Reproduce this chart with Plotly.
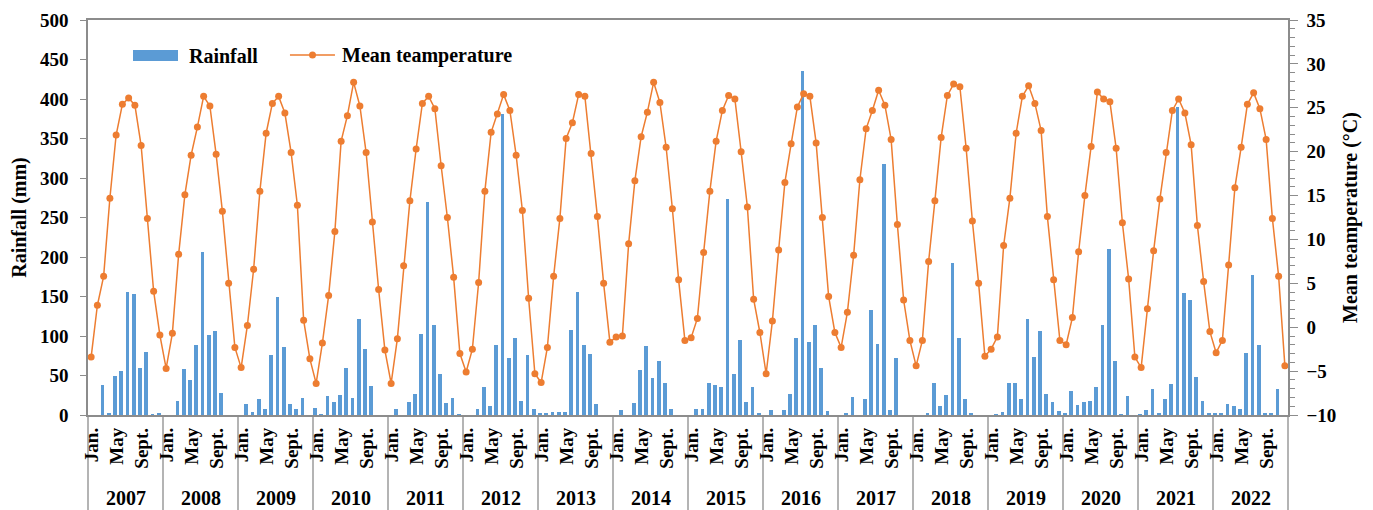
import plotly.graph_objects as go

# Monthly climate record, 2007-2022
years = [str(y) for y in range(2007, 2023)]
month_labels = ["Jan.", "May", "Sept."]
label_months = [0, 4, 8]  # month index (0 = January) that carries a label

# Monthly rainfall (mm), one row per year, Jan..Dec
rainfall_mm = [
    0, 0, 38, 3, 49, 56, 156, 153, 60, 80, 1, 2,          # 2007
    0, 0, 18, 58, 44, 89, 206, 101, 106, 28, 0, 0,        # 2008
    0, 14, 4, 20, 8, 76, 149, 86, 14, 7, 22, 0,           # 2009
    9, 1, 24, 16, 25, 60, 21, 122, 84, 37, 0, 0,          # 2010
    0, 8, 0, 16, 27, 103, 270, 114, 52, 15, 22, 1,        # 2011
    0, 0, 8, 36, 12, 88, 381, 72, 98, 18, 76, 8,          # 2012
    3, 2, 4, 4, 4, 107, 156, 88, 77, 14, 0, 0,            # 2013
    0, 6, 0, 15, 57, 87, 47, 68, 40, 8, 0, 0,             # 2014
    0, 7, 7, 41, 38, 36, 273, 52, 95, 17, 35, 2,          # 2015
    0, 6, 0, 6, 27, 98, 435, 92, 114, 60, 5, 0,           # 2016
    0, 2, 23, 0, 20, 133, 90, 318, 6, 72, 0, 0,           # 2017
    0, 0, 2, 41, 11, 25, 192, 98, 20, 2, 0, 0,            # 2018
    0, 1, 4, 40, 40, 20, 121, 74, 106, 26, 16, 5,         # 2019
    2, 30, 13, 17, 18, 35, 114, 210, 68, 1, 24, 0,        # 2020
    1, 6, 33, 3, 20, 39, 390, 154, 145, 48, 18, 2,        # 2021
    2, 2, 14, 11, 8, 79, 177, 89, 2, 2, 33, 0,            # 2022
]

# Monthly mean temperature (°C), Jan..Dec
mean_temp_c = [
    -3.4, 2.5, 5.8, 14.7, 21.9, 25.4, 26.1, 25.3, 20.7, 12.4, 4.1, -0.9,    # 2007
    -4.7, -0.7, 8.3, 15.1, 19.6, 22.8, 26.3, 25.2, 19.7, 13.2, 5.0, -2.3,   # 2008
    -4.6, 0.2, 6.6, 15.5, 22.1, 25.5, 26.3, 24.4, 19.9, 13.9, 0.8, -3.6,    # 2009
    -6.4, -1.8, 3.6, 10.9, 21.2, 24.1, 27.9, 25.2, 19.9, 12.0, 4.3, -2.6,   # 2010
    -6.4, -1.3, 7.0, 14.4, 20.3, 25.5, 26.3, 24.9, 18.4, 12.5, 5.7, -3.0,   # 2011
    -5.1, -2.5, 5.1, 15.5, 22.2, 24.3, 26.5, 24.7, 19.6, 13.3, 3.3, -5.3,   # 2012
    -6.3, -2.3, 5.8, 12.4, 21.5, 23.3, 26.5, 26.3, 19.8, 12.6, 5.0, -1.7,   # 2013
    -1.1, -1.0, 9.5, 16.7, 21.7, 24.5, 27.9, 25.6, 20.5, 13.5, 5.4, -1.5,   # 2014
    -1.2, 1.0, 8.5, 15.5, 21.2, 24.7, 26.4, 26.0, 20.0, 13.7, 3.2, -0.6,    # 2015
    -5.3, 0.7, 8.8, 16.5, 20.9, 25.1, 26.6, 26.3, 21.0, 12.5, 3.5, -0.6,    # 2016
    -2.3, 1.7, 8.2, 16.8, 22.6, 24.7, 27.0, 25.3, 21.4, 11.7, 3.1, -1.5,    # 2017
    -4.4, -1.5, 7.5, 14.4, 21.6, 26.4, 27.7, 27.4, 20.4, 12.1, 5.0, -3.3,   # 2018
    -2.5, -1.1, 9.3, 14.7, 22.1, 26.3, 27.5, 25.5, 22.4, 12.6, 5.4, -1.5,   # 2019
    -2.0, 1.1, 8.6, 15.0, 20.6, 26.8, 26.0, 25.7, 20.4, 11.9, 5.5, -3.4,    # 2020
    -4.6, 2.1, 8.7, 14.6, 19.9, 24.7, 26.0, 24.4, 20.8, 11.6, 5.2, -0.5,    # 2021
    -2.9, -1.5, 7.1, 15.9, 20.5, 25.4, 26.7, 24.9, 21.4, 12.4, 5.8, -4.4,   # 2022
]

BLUE = "#5B9BD5"
ORANGE = "#ED7D31"
GREY = "#8C8C8C"
FONT = "Liberation Serif, Times New Roman, serif"

n_months = len(rainfall_mm)
x_idx = list(range(n_months))

fig = go.Figure()

fig.add_trace(go.Bar(
    x=x_idx, y=rainfall_mm, name="Rainfall",
    marker=dict(color=BLUE, line=dict(width=0)),
    width=0.6, offset=-0.5, yaxis="y", showlegend=False,
))

fig.add_trace(go.Scatter(
    x=x_idx, y=mean_temp_c, name="Mean teamperature",
    mode="lines+markers",
    line=dict(color=ORANGE, width=1.5),
    marker=dict(color=ORANGE, size=7),
    yaxis="y2", showlegend=False,
))

annotations = []
shapes = []

# month labels (every fourth month) and year labels under the axis
for k, yr in enumerate(years):
    for m, lab in zip(label_months, month_labels):
        annotations.append(dict(
            x=12 * k + m, y=0, xref="x", yref="paper",
            text=lab, textangle=-90, showarrow=False,
            xanchor="center", yanchor="top", yshift=-11,
            font=dict(family=FONT, size=19, color="black", weight="bold"),
        ))
    annotations.append(dict(
        x=12 * k + 5.5, y=-0.21, xref="x", yref="paper",
        text=yr, showarrow=False, xanchor="center", yanchor="middle",
        font=dict(family=FONT, size=20, color="black", weight="bold"),
    ))

# vertical separators between years
n_years = len(years)
for k in range(n_years + 1):
    shapes.append(dict(
        type="line", xref="paper", yref="paper",
        x0=k / n_years, x1=k / n_years, y0=0, y1=-0.2405,
        line=dict(color=GREY, width=1.3),
    ))

# legend: rainfall swatch, temperature line with marker
shapes.append(dict(type="rect", xref="paper", yref="paper",
                   x0=0.0375, x1=0.075, y0=0.8962, y1=0.9241,
                   fillcolor=BLUE, line=dict(width=0)))
shapes.append(dict(type="line", xref="paper", yref="paper",
                   x0=0.1683, x1=0.2058, y0=0.9114, y1=0.9114,
                   line=dict(color=ORANGE, width=1.5)))
shapes.append(dict(type="circle", xref="paper", yref="paper",
                   x0=0.1842, x1=0.1900, y0=0.9025, y1=0.9203,
                   fillcolor=ORANGE, line=dict(color=ORANGE, width=0)))
annotations.append(dict(x=0.0825, y=0.909, xref="paper", yref="paper",
                        text="Rainfall", showarrow=False,
                        xanchor="left", yanchor="middle",
                        font=dict(family=FONT, size=20, color="black", weight="bold")))
annotations.append(dict(x=0.21, y=0.909, xref="paper", yref="paper",
                        text="Mean teamperature", showarrow=False,
                        xanchor="left", yanchor="middle",
                        font=dict(family=FONT, size=20, color="black", weight="bold")))

tick_font = dict(family=FONT, size=19, color="black", weight="bold")
title_font = dict(family=FONT, size=20, color="black", weight="bold")

fig.update_layout(
    width=1373, height=510,
    margin=dict(l=88, r=85, t=20, b=95, autoexpand=False),
    paper_bgcolor="white", plot_bgcolor="white",
    bargap=0,
    xaxis=dict(
        range=[-0.5, n_months - 0.5], showticklabels=False, ticks="",
        showgrid=False, zeroline=False,
        showline=True, linecolor=GREY, linewidth=1.5, mirror=True,
    ),
    yaxis=dict(
        range=[0, 500], dtick=50, tick0=0,
        ticks="outside", ticklen=6, tickcolor=GREY, tickwidth=1.3,
        showline=True, linecolor=GREY, linewidth=1.5,
        showgrid=False, zeroline=False,
        tickfont=tick_font, ticklabelstandoff=8,
        title=dict(text="Rainfall (mm)", font=title_font, standoff=8),
    ),
    yaxis2=dict(
        range=[-10, 35], dtick=5, tick0=-10,
        overlaying="y", side="right",
        ticks="outside", ticklen=8, tickcolor=GREY, tickwidth=1.3,
        minor=dict(ticks="outside", ticklen=5, dtick=1, tickcolor=GREY, tickwidth=1),
        showline=True, linecolor=GREY, linewidth=1.5,
        showgrid=False, zeroline=False,
        tickfont=tick_font, ticklabelstandoff=5,
        title=dict(text="Mean teamperature (°C)", font=title_font, standoff=8),
    ),
    annotations=annotations,
    shapes=shapes,
)

fig.write_html("out.html")
